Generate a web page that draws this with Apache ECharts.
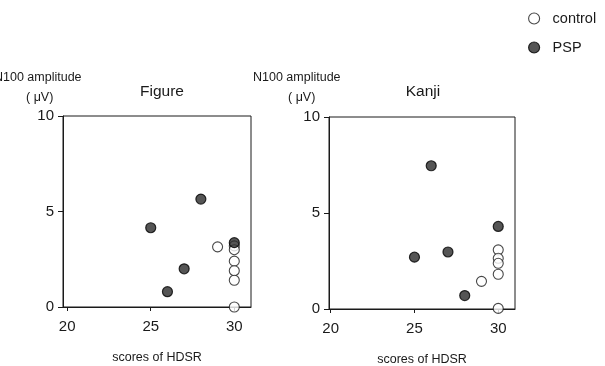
<!DOCTYPE html>
<html>
<head>
<meta charset="utf-8">
<script src="https://cdn.jsdelivr.net/npm/echarts@6/dist/echarts.min.js"></script>
<style>html,body{margin:0;padding:0;background:#fff}#c{width:605px;height:366px}</style>
</head>
<body>
<div id="c"></div>
<script>
// Figure panel
var figControlX = [29, 30, 30, 30, 30, 30, 30];
var figControlY = [3.15, 3.2, 3.0, 2.4, 1.9, 1.4, 0.0];
var figPspX = [25, 26, 27, 28, 30];
var figPspY = [4.15, 0.8, 2.0, 5.65, 3.37];
// Kanji panel
var kanjiControlX = [29, 30, 30, 30, 30, 30];
var kanjiControlY = [1.44, 3.08, 2.64, 2.38, 1.81, 0.03];
var kanjiPspX = [25, 26, 27, 28, 30];
var kanjiPspY = [2.7, 7.46, 2.97, 0.7, 4.3];
var xTicks = [20, 25, 30];
var panelTitles = ['Figure', 'Kanji'];
var yName = 'N100 amplitude';
var yUnit = '( \u03bcV)';
var xName = 'scores of HDSR';
var legendNames = ['control', 'PSP'];

function pairs(xs, ys) { return xs.map(function (x, i) { return [x, ys[i]]; }); }

var font = 'Liberation Sans, Arial, Helvetica, sans-serif';
var ink = '#1a1a1a';

function xAxis(idx, min) {
  return {
    gridIndex: idx, type: 'value', min: min, max: 31,
    name: xName, nameLocation: 'middle', nameGap: 44,
    nameTextStyle: { fontFamily: font, fontSize: 12.5, color: ink },
    axisLine: { show: true, lineStyle: { color: ink, width: 1 } },
    axisTick: { show: true, inside: false, length: 4, customValues: xTicks, lineStyle: { color: ink } },
    axisLabel: { customValues: xTicks, margin: 12, fontFamily: font, fontSize: 15, color: ink },
    splitLine: { show: false }
  };
}
function yAxis(idx) {
  return {
    gridIndex: idx, type: 'value', min: 0, max: 10, interval: 5,
    axisLine: { show: true, lineStyle: { color: ink, width: 1 } },
    axisTick: { show: true, inside: false, length: 5, lineStyle: { color: ink } },
    axisLabel: { margin: 9, fontFamily: font, fontSize: 15, color: ink },
    splitLine: { show: false }
  };
}

var openStyle = { color: '#ffffff', borderColor: ink, borderWidth: 1.1 };
var fillStyle = { color: '#2a2a2a', borderColor: '#000', borderWidth: 1.2 };

var chart = echarts.init(document.getElementById('c'), null, { renderer: 'canvas' });
chart.setOption({
  animation: false,
  backgroundColor: '#ffffff',
  title: [
    { text: panelTitles[0], left: 157, top: 79, textAlign: 'center', textStyle: { fontFamily: font, fontSize: 15.5, fontWeight: 'normal', color: ink } },
    { text: panelTitles[1], left: 418, top: 79, textAlign: 'center', textStyle: { fontFamily: font, fontSize: 15.5, fontWeight: 'normal', color: ink } }
  ],
  legend: {
    orient: 'vertical', left: 523, top: 6, itemGap: 14, itemWidth: 11, itemHeight: 11,
    data: [
      { name: legendNames[0], icon: 'circle', itemStyle: openStyle },
      { name: legendNames[1], icon: 'circle', itemStyle: fillStyle }
    ],
    textStyle: { fontFamily: font, fontSize: 14.5, color: ink, padding: [0, 0, 0, 8] }
  },
  grid: [
    { left: 63, top: 116, width: 188, height: 191, containLabel: false, outerBoundsMode: 'none', show: true, borderColor: ink, borderWidth: 1, backgroundColor: 'transparent' },
    { left: 329, top: 117, width: 186, height: 192, containLabel: false, outerBoundsMode: 'none', show: true, borderColor: ink, borderWidth: 1, backgroundColor: 'transparent' }
  ],
  xAxis: [xAxis(0, 19.75), xAxis(1, 19.9)],
  yAxis: [yAxis(0), yAxis(1)],
  graphic: [
    { type: 'text', left: -6, top: 71, style: { text: yName, fontFamily: font, fontSize: 12.5, fill: ink } },
    { type: 'text', left: 26, top: 91, style: { text: yUnit, fontFamily: font, fontSize: 12.5, fill: ink } },
    { type: 'text', left: 253, top: 71, style: { text: yName, fontFamily: font, fontSize: 12.5, fill: ink } },
    { type: 'text', left: 288, top: 91, style: { text: yUnit, fontFamily: font, fontSize: 12.5, fill: ink } }
  ],
  series: [
    { name: legendNames[0], type: 'scatter', xAxisIndex: 0, yAxisIndex: 0, symbol: 'circle', symbolSize: 10, itemStyle: openStyle, data: pairs(figControlX, figControlY), z: 2 },
    { name: legendNames[1], type: 'scatter', xAxisIndex: 0, yAxisIndex: 0, symbol: 'circle', symbolSize: 10, itemStyle: fillStyle, data: pairs(figPspX, figPspY), z: 3 },
    { name: legendNames[0], type: 'scatter', xAxisIndex: 1, yAxisIndex: 1, symbol: 'circle', symbolSize: 10, itemStyle: openStyle, data: pairs(kanjiControlX, kanjiControlY), z: 2 },
    { name: legendNames[1], type: 'scatter', xAxisIndex: 1, yAxisIndex: 1, symbol: 'circle', symbolSize: 10, itemStyle: fillStyle, data: pairs(kanjiPspX, kanjiPspY), z: 3 }
  ]
});
</script>
</body>
</html>
